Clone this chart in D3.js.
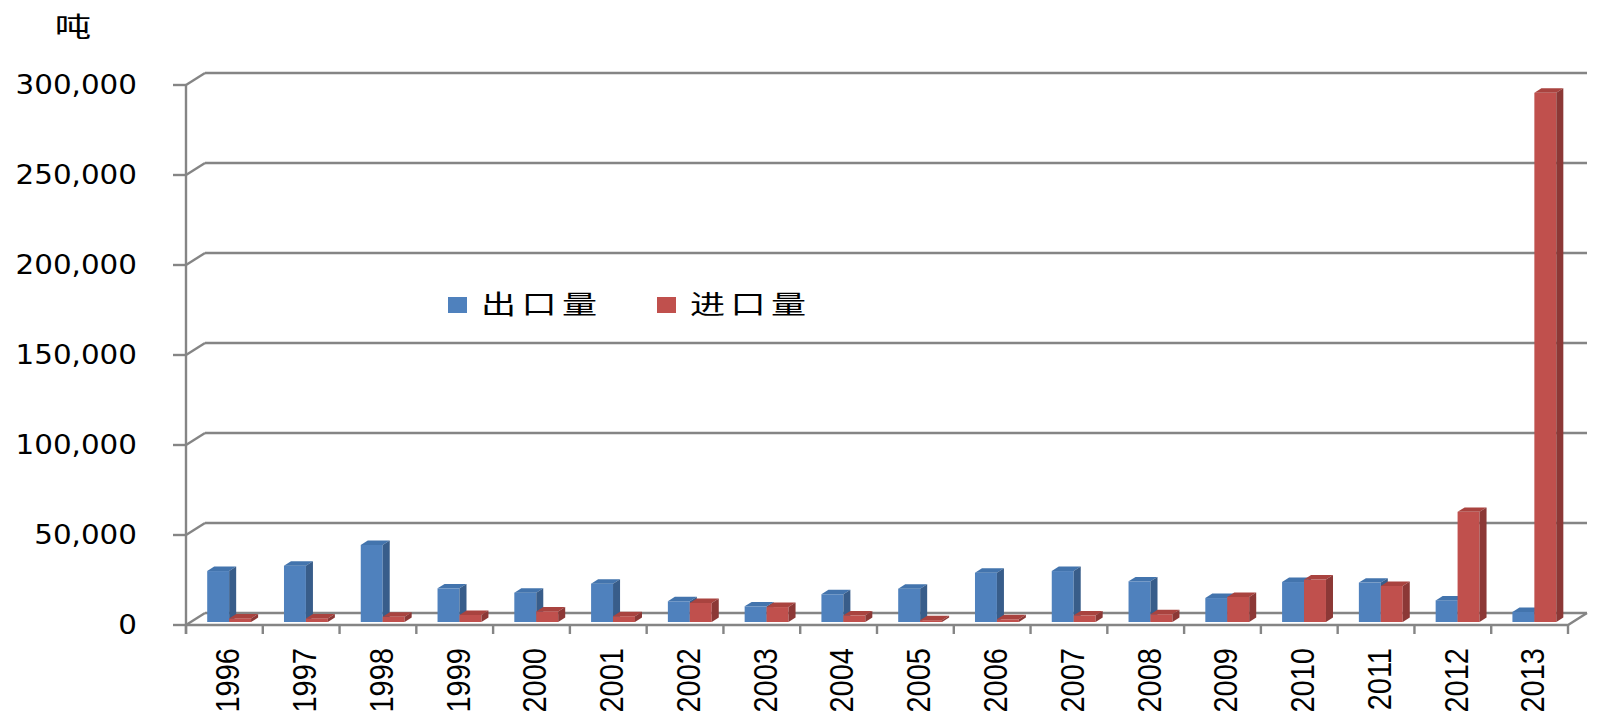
<!DOCTYPE html>
<html>
<head>
<meta charset="utf-8">
<script src="https://cdn.jsdelivr.net/npm/d3@7"></script>
<style>
    html, body { margin: 0; padding: 0; background: #fff; }
</style>
</head>
<body>
<div id="chart"></div>
<script>
const years = ['1996', '1997', '1998', '1999', '2000', '2001', '2002', '2003', '2004',
    '2005', '2006', '2007', '2008', '2009', '2010', '2011', '2012', '2013'];
const exportTons = [28300, 31300, 42800, 18700, 16300, 21300, 11500, 8700, 15400,
    18500, 27400, 28300, 22600, 13300, 22200, 21900, 12000, 5600];
const importTons = [2000, 2000, 2900, 3900, 5900, 3200, 10600, 8300, 3700,
    1000, 1500, 3700, 4300, 13900, 23600, 20000, 61200, 294000];
const seriesNames = ['出口量', '进口量'];
const yTicks = [0, 50000, 100000, 150000, 200000, 250000, 300000];
const unitLabel = '吨';

const width = 1605;
const height = 728;
const depth = { dx: 19, dy: -12 };
const barFront = 0.25;
const barBack = 0.62;
const gridColor = '#858585';
const colors = [
    { front: '#4f81bd', top: '#4374ad', side: '#385d8a' },
    { front: '#c0504d', top: '#a9433f', side: '#8c3836' }
];

const svg = d3.select('#chart').append('svg')
    .attr('width', width)
    .attr('height', height)
    .style('font-family', '"DejaVu Sans", sans-serif');

const x = d3.scaleBand().domain(years).range([186, 1568]);
const xs = d3.scaleBand().domain(seriesNames).range([0, x.bandwidth()]).paddingOuter(0.75);
const y = d3.scaleLinear().domain([0, 300000]).range([625, 85]);
const [left, right] = x.range();

// walls
const walls = svg.append('g')
    .style('stroke', gridColor)
    .style('stroke-width', 2.4)
    .style('fill', 'none');

walls.selectAll('line.grid')
    .data(yTicks)
    .join('line')
    .attr('x1', left + depth.dx)
    .attr('x2', right + depth.dx)
    .attr('y1', d => y(d) + depth.dy)
    .attr('y2', d => y(d) + depth.dy);

walls.selectAll('line.side')
    .data(yTicks)
    .join('line')
    .attr('x1', left)
    .attr('x2', left + depth.dx)
    .attr('y1', d => y(d))
    .attr('y2', d => y(d) + depth.dy);

walls.selectAll('line.ytick')
    .data(yTicks)
    .join('line')
    .attr('x1', left - 13)
    .attr('x2', left)
    .attr('y1', d => y(d))
    .attr('y2', d => y(d));

walls.append('line')
    .attr('x1', left).attr('x2', left)
    .attr('y1', y(300000)).attr('y2', y(0) + 9);

// floor
walls.append('path')
    .attr('d', 'M' + left + ',' + y(0) + 'H' + right +
        'l' + depth.dx + ',' + depth.dy);

const catEdges = years.map(d => x(d)).concat([right]);
walls.selectAll('line.xtick')
    .data(catEdges)
    .join('line')
    .attr('x1', d => d).attr('x2', d => d)
    .attr('y1', y(0)).attr('y2', y(0) + 9);

// bars
const bars = [];
years.forEach((yr, i) => {
    bars.push({ year: yr, s: 0, value: exportTons[i] });
    bars.push({ year: yr, s: 1, value: importTons[i] });
});

const ddx = (barBack - barFront) * depth.dx;
const ddy = (barBack - barFront) * depth.dy;
const bw = xs.bandwidth();

svg.append('g').selectAll('g')
    .data(bars)
    .join('g')
    .each(function (d) {
        const g = d3.select(this);
        const bx = x(d.year) + xs(seriesNames[d.s]) + barFront * depth.dx;
        const yb = y(0) + barFront * depth.dy;
        const yt = y(d.value) + barFront * depth.dy;
        const c = colors[d.s];
        g.append('rect')
            .attr('x', bx)
            .attr('y', yt)
            .attr('width', bw)
            .attr('height', yb - yt)
            .style('fill', c.front);
        g.append('polygon')
            .attr('points', [[bx, yt], [bx + ddx, yt + ddy], [bx + bw + ddx, yt + ddy], [bx + bw, yt]].join(' '))
            .style('fill', c.top);
        g.append('polygon')
            .attr('points', [[bx + bw, yt], [bx + bw + ddx, yt + ddy], [bx + bw + ddx, yb + ddy], [bx + bw, yb]].join(' '))
            .style('fill', c.side);
    });

// labels
const fmt = d3.format(',');
svg.append('g').selectAll('text')
    .data(yTicks)
    .join('text')
    .attr('transform', d => 'translate(137,' + y(d) + ') scale(1.13,1)')
    .attr('text-anchor', 'end')
    .attr('dy', '0.36em')
    .style('font-size', '26px')
    .style('fill', '#000')
    .text(d => fmt(d));

svg.append('g').selectAll('text')
    .data(years)
    .join('text')
    .attr('transform', d => 'translate(' + (x(d) + x.bandwidth() / 2 + 3) + ',648) scale(1.13,1) rotate(-90)')
    .attr('text-anchor', 'end')
    .attr('dy', '0.36em')
    .style('font-family', '"Liberation Sans", Arial, sans-serif')
    .style('font-size', '29px')
    .style('fill', '#000')
    .text(d => d);

svg.append('text')
    .attr('transform', 'translate(73,28) scale(1.35,1)')
    .attr('text-anchor', 'middle')
    .attr('dy', '0.35em')
    .style('font-family', '"Noto Sans CJK SC", sans-serif')
    .style('font-size', '27px')
    .style('fill', '#000')
    .text(unitLabel);

// legend
const legendX = [448, 657];
const legend = svg.append('g').selectAll('g')
    .data(seriesNames)
    .join('g')
    .attr('transform', (d, i) => 'translate(' + legendX[i] + ',305)');

legend.append('rect')
    .attr('x', 0)
    .attr('y', -8)
    .attr('width', 19)
    .attr('height', 16)
    .style('fill', (d, i) => colors[i].front);

legend.append('text')
    .attr('transform', 'translate(33,0) scale(1.35,1)')
    .attr('dy', '0.36em')
    .style('font-family', '"Noto Sans CJK SC", sans-serif')
    .style('font-size', '26px')
    .style('letter-spacing', '4px')
    .style('fill', '#000')
    .text(d => d);
</script>
</body>
</html>
